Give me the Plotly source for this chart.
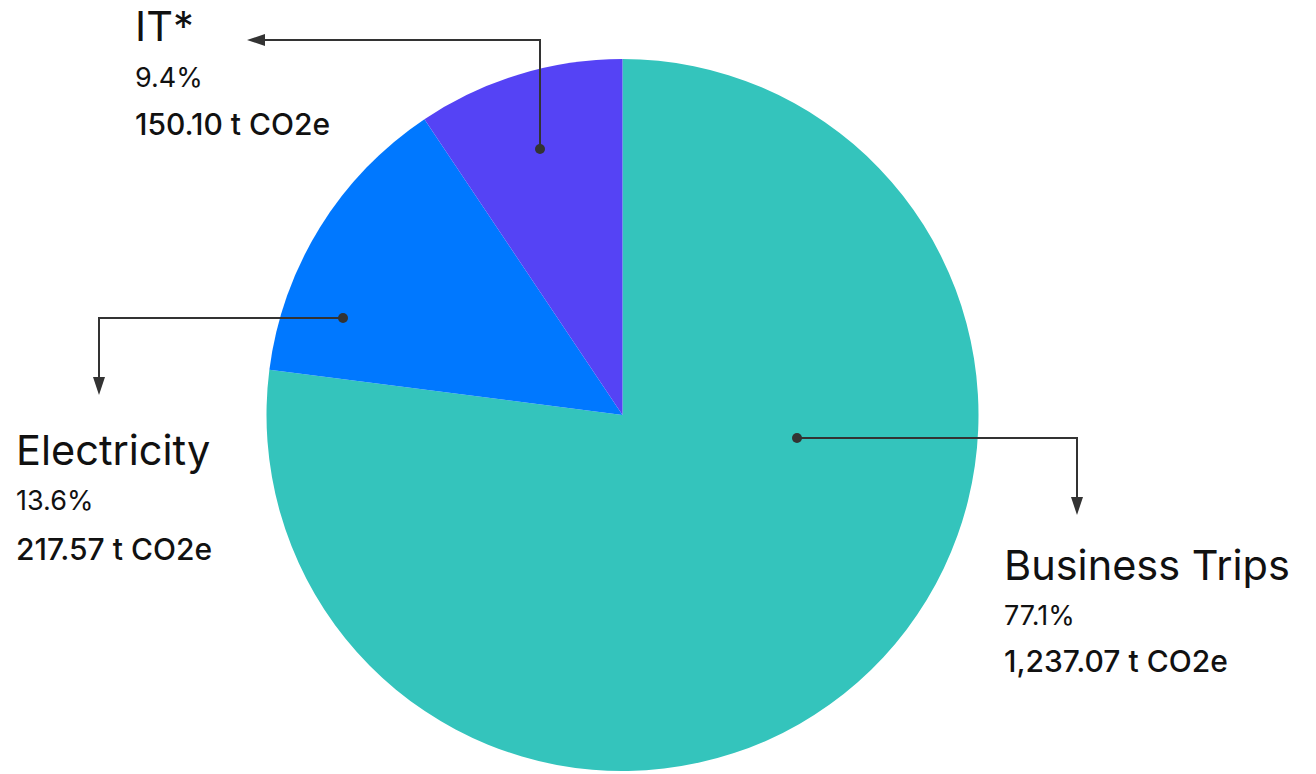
import plotly.graph_objects as go

categories = ["Business Trips", "Electricity", "IT*"]
shares = [77.1, 13.6, 9.4]
emissions = ["1,237.07", "217.57", "150.10"]
colors = ["#34C4BC", "#0078FF", "#5543F5"]

W, H = 1316, 774

def px(x):
    return x / W

def py(y):
    return 1 - y / H

fig = go.Figure(go.Pie(
    labels=categories,
    values=shares,
    sort=False,
    direction="clockwise",
    rotation=0,
    marker=dict(colors=colors, line=dict(width=0)),
    textinfo="none",
    hoverinfo="label+percent",
    showlegend=False,
    domain=dict(x=[px(266.5), px(978.5)], y=[py(771), py(59)]),
))

FONT = "Inter, 'Open Sans', sans-serif"
INK = "#111111"
LINE = "#333333"

# label blocks: (left x, title y, pct y, value y)
blocks = {
    "IT*": (133, 26, 78, 124),
    "Electricity": (14, 450, 500, 549),
    "Business Trips": (1002, 565, 615, 661),
}

annotations = []
for cat, sh, em in zip(categories, shares, emissions):
    x, yt, yp, yv = blocks[cat]
    annotations.append(dict(x=px(x), y=py(yt), xref="paper", yref="paper", text=cat,
                            showarrow=False, xanchor="left", yanchor="middle",
                            font=dict(family=FONT, size=41.5, color=INK)))
    annotations.append(dict(x=px(x), y=py(yp), xref="paper", yref="paper", text=f"{sh}%",
                            showarrow=False, xanchor="left", yanchor="middle",
                            font=dict(family=FONT, size=27, color=INK)))
    annotations.append(dict(x=px(x), y=py(yv), xref="paper", yref="paper", text=f"{em} t CO2e",
                            showarrow=False, xanchor="left", yanchor="middle",
                            font=dict(family=FONT, size=30, color=INK, weight=500)))

# connector routes: dot -> elbow -> tip
routes = {
    "IT*": [(540, 149), (540, 40), (247, 40)],
    "Electricity": [(343, 318), (99, 318), (99, 395)],
    "Business Trips": [(797, 438), (1077, 438), (1077, 515)],
}

HEAD_L, HEAD_W = 18, 6

shapes = []
for cat, pts in routes.items():
    (x0, y0), (x1, y1), (x2, y2) = pts
    dx = x2 - x1
    dy = y2 - y1
    L = (dx * dx + dy * dy) ** 0.5
    ux, uy = dx / L, dy / L
    bx, by = x2 - ux * HEAD_L, y2 - uy * HEAD_L
    path = f"M {px(x0)},{py(y0)} L {px(x1)},{py(y1)} L {px(bx)},{py(by)}"
    shapes.append(dict(type="path", path=path, xref="paper", yref="paper",
                       line=dict(color=LINE, width=2)))
    # arrowhead triangle
    nx, ny = -uy, ux
    tri = (f"M {px(x2)},{py(y2)} "
           f"L {px(bx + nx * HEAD_W)},{py(by + ny * HEAD_W)} "
           f"L {px(bx - nx * HEAD_W)},{py(by - ny * HEAD_W)} Z")
    shapes.append(dict(type="path", path=tri, xref="paper", yref="paper",
                       fillcolor=LINE, line=dict(width=0)))
    shapes.append(dict(type="circle", xref="paper", yref="paper",
                       xsizemode="pixel", ysizemode="pixel",
                       xanchor=px(x0), yanchor=py(y0),
                       x0=-5, x1=5, y0=-5, y1=5,
                       fillcolor=LINE, line=dict(width=0)))

fig.update_layout(
    width=W, height=H,
    margin=dict(l=0, r=0, t=0, b=0),
    paper_bgcolor="white",
    plot_bgcolor="white",
    annotations=annotations,
    shapes=shapes,
    font=dict(family=FONT),
)

fig.write_html("out.html")
